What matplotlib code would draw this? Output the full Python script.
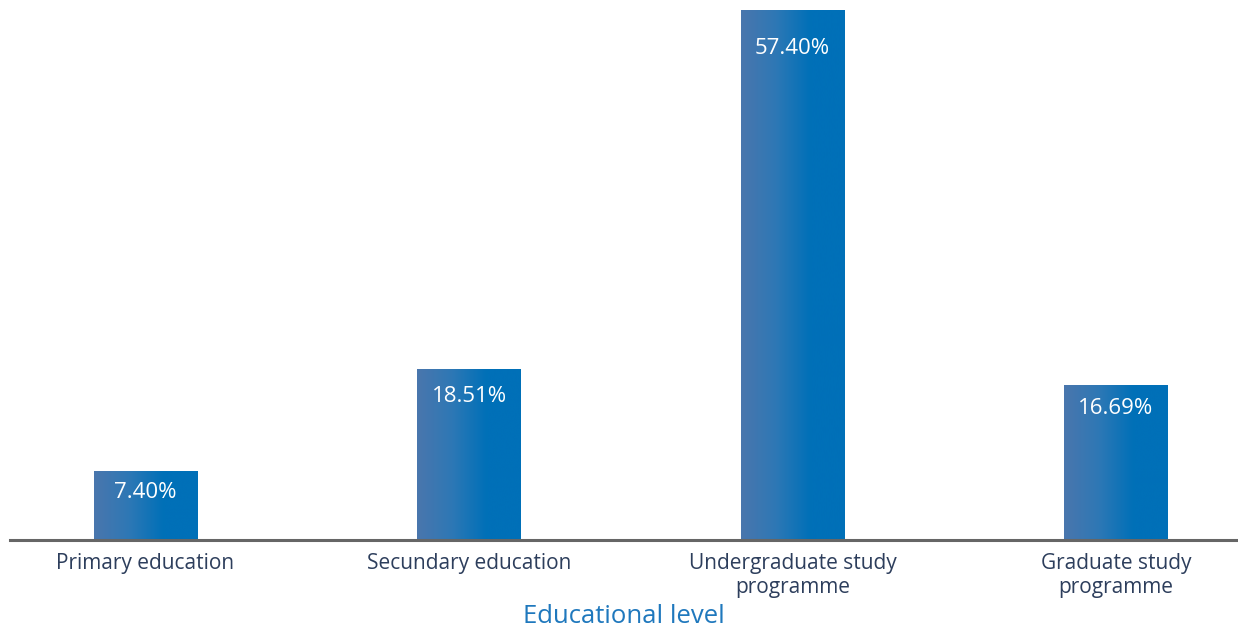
import matplotlib
matplotlib.use("Agg")
import matplotlib.pyplot as plt
import numpy as np
from matplotlib.colors import LinearSegmentedColormap

categories = ["Primary education", "Secundary education",
              "Undergraduate study\nprogramme", "Graduate study\nprogramme"]
values = [7.40, 18.51, 57.40, 16.69]
value_labels = ["7.40%", "18.51%", "57.40%", "16.69%"]
axis_title = "Educational level"

# style: label offset (pixels below bar top)
label_offsets_px = [21, 27, 39, 23]

plt.rcParams['font.family'] = ['Open Sans', 'DejaVu Sans']

fig = plt.figure(figsize=(12.38, 6.28), dpi=100)
ax = fig.add_axes([10/1238, 88/628, 1228/1238, 530/628])

x = np.arange(len(categories))
width = 0.32
bars = ax.bar(x, values, width=width, color='none', edgecolor='none', zorder=2)

cmap = LinearSegmentedColormap.from_list("g", ["#4a76ad", "#2e78b5", "#0070b8", "#0070b8"])
grad = np.linspace(0, 1, 256).reshape(1, -1)
for rect in bars:
    x0 = rect.get_x()
    w = rect.get_width()
    h = rect.get_height()
    ax.imshow(grad, cmap=cmap, aspect='auto', extent=[x0, x0 + w, 0, h],
              zorder=2, interpolation='bicubic')

for xi, v, lab, off in zip(x, values, value_labels, label_offsets_px):
    ax.annotate(lab, xy=(xi, v), xytext=(0, -off), textcoords='offset pixels',
                ha='center', va='center', color='white', fontsize=16, zorder=3)

ax.set_xlim(-0.419, 3.377)
ax.set_ylim(0, 57.4)

for s in ['top', 'right', 'left']:
    ax.spines[s].set_visible(False)
ax.spines['bottom'].set_color('#666666')
ax.spines['bottom'].set_linewidth(2.2)
ax.set_yticks([])
ax.set_xticks(x)
ax.set_xticklabels(categories, fontsize=15, color='#2d3e5c', linespacing=1.25)
ax.tick_params(axis='x', length=0, pad=9)
ax.set_xlabel(axis_title, fontsize=18.5, color='#1f78bd', labelpad=4)

fig.savefig("out.png", dpi=100)
